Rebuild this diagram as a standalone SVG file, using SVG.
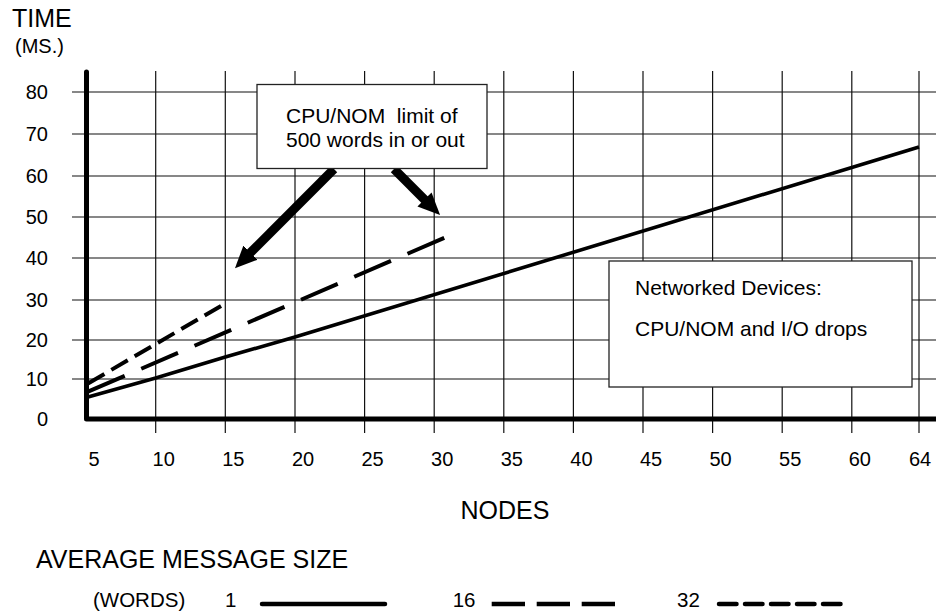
<svg xmlns="http://www.w3.org/2000/svg" width="936" height="615" viewBox="0 0 936 615">
  <style>
    text { font-family: "Liberation Sans", Arial, sans-serif; fill: #000; }
    .tick { font-size: 20px; }
    .ytick { text-anchor: end; }
    .xtick { text-anchor: middle; }
    .grid line { stroke: #111; stroke-width: 1.2; }
    .box { fill: #fff; stroke: #222; stroke-width: 1.3; }
    .boxtext { font-size: 21px; }
    .series { fill: none; stroke: #000; stroke-linecap: butt; }
  </style>
  <defs>
    <marker id="head" viewBox="0 0 22 20" refX="1" refY="10" markerWidth="22" markerHeight="20" markerUnits="userSpaceOnUse" orient="auto">
      <path d="M0,0 L22,10 L0,20 Z" fill="#000"/>
    </marker>
  </defs>

  <rect width="936" height="615" fill="#fff"/>

  <!-- grid -->
  <g id="grid" class="grid">
    <line x1="72" y1="92" x2="936" y2="92"/>
    <line x1="72" y1="134" x2="936" y2="134"/>
    <line x1="72" y1="176" x2="936" y2="176"/>
    <line x1="72" y1="217" x2="936" y2="217"/>
    <line x1="72" y1="258" x2="936" y2="258"/>
    <line x1="72" y1="300" x2="936" y2="300"/>
    <line x1="72" y1="340" x2="936" y2="340"/>
    <line x1="72" y1="379" x2="936" y2="379"/>
    <line x1="155.7" y1="71" x2="155.7" y2="433"/>
    <line x1="225.3" y1="71" x2="225.3" y2="433"/>
    <line x1="295" y1="71" x2="295" y2="433"/>
    <line x1="364.6" y1="71" x2="364.6" y2="433"/>
    <line x1="434.2" y1="71" x2="434.2" y2="433"/>
    <line x1="503.8" y1="71" x2="503.8" y2="433"/>
    <line x1="573.4" y1="71" x2="573.4" y2="433"/>
    <line x1="643" y1="71" x2="643" y2="433"/>
    <line x1="712.6" y1="71" x2="712.6" y2="433"/>
    <line x1="782.2" y1="71" x2="782.2" y2="433"/>
    <line x1="851.8" y1="71" x2="851.8" y2="433"/>
    <line x1="919" y1="71" x2="919" y2="433"/>
  </g>

  <!-- axes -->
  <g id="axes">
    <path d="M86.5 72 V419 H936" fill="none" stroke="#000" stroke-width="5" stroke-linecap="round" stroke-linejoin="round"/>
    <text x="12" y="27" font-size="25">TIME</text>
    <text x="15" y="53" font-size="20">(MS.)</text>
    <g class="tick ytick">
      <text x="48" y="99">80</text>
      <text x="48" y="141">70</text>
      <text x="48" y="183">60</text>
      <text x="48" y="224">50</text>
      <text x="48" y="265">40</text>
      <text x="48" y="307">30</text>
      <text x="48" y="347">20</text>
      <text x="48" y="386">10</text>
      <text x="48" y="426">0</text>
    </g>
    <g class="tick xtick">
      <text x="94" y="466">5</text>
      <text x="163.7" y="466">10</text>
      <text x="233.3" y="466">15</text>
      <text x="303" y="466">20</text>
      <text x="372.6" y="466">25</text>
      <text x="442.2" y="466">30</text>
      <text x="511.8" y="466">35</text>
      <text x="581.4" y="466">40</text>
      <text x="651" y="466">45</text>
      <text x="720.6" y="466">50</text>
      <text x="790.2" y="466">55</text>
      <text x="859.8" y="466">60</text>
      <text x="920" y="466">64</text>
    </g>
    <text x="505" y="519" font-size="25" text-anchor="middle">NODES</text>
  </g>

  <!-- data series -->
  <g id="series">
    <polyline class="series" stroke-width="3.6" points="88,397 155.7,378 225.3,357 295,337 919,147"/>
    <line class="series" stroke-width="4" stroke-dasharray="40 18" x1="88" y1="391.7" x2="451" y2="235"/>
    <line class="series" stroke-width="4" stroke-dasharray="19 8" x1="88" y1="383.5" x2="226" y2="303"/>
  </g>

  <!-- connectors: callout arrows -->
  <g id="connectors">
    <line x1="334" y1="169" x2="249.8" y2="253.3" stroke="#000" stroke-width="9" marker-end="url(#head)"/>
    <line x1="394" y1="169" x2="425.2" y2="200.2" stroke="#000" stroke-width="9" marker-end="url(#head)"/>
  </g>

  <!-- callout: CPU/NOM limit -->
  <g id="limit-note">
    <rect class="box" x="257" y="84.5" width="230" height="84"/>
    <text class="boxtext" x="286" y="122.5" xml:space="preserve">CPU/NOM  limit of</text>
    <text class="boxtext" x="286" y="147">500 words in or out</text>
  </g>

  <!-- callout: networked devices -->
  <g id="devices-note">
    <rect class="box" x="609" y="261" width="303" height="126"/>
    <text class="boxtext" x="635" y="295">Networked Devices:</text>
    <text class="boxtext" x="635" y="336">CPU/NOM and I/O drops</text>
  </g>

  <!-- legend -->
  <g id="legend">
    <text x="36" y="568" font-size="25">AVERAGE MESSAGE SIZE</text>
    <text x="93" y="607" font-size="20.5">(WORDS)</text>
    <text x="225" y="607" font-size="20.5">1</text>
    <line x1="262" y1="604" x2="385" y2="604" stroke="#000" stroke-width="4.5" stroke-linecap="round"/>
    <text x="452.7" y="607" font-size="20.5">16</text>
    <line x1="491.7" y1="604" x2="615" y2="604" stroke="#000" stroke-width="4.5" stroke-dasharray="33.3 11.7"/>
    <text x="677" y="607" font-size="20.5">32</text>
    <line x1="719" y1="604" x2="841" y2="604" stroke="#000" stroke-width="4.5" stroke-linecap="round" stroke-dasharray="17.5 8.5"/>
  </g>
</svg>
